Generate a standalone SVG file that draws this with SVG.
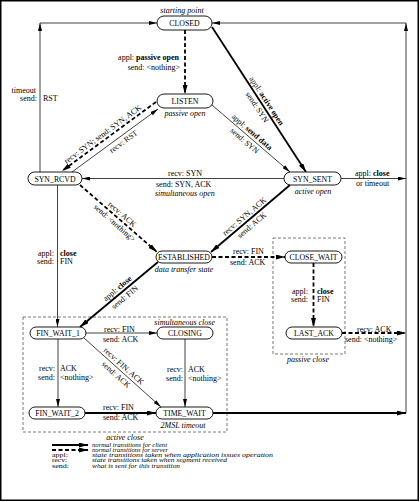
<svg xmlns="http://www.w3.org/2000/svg" width="420" height="502" viewBox="0 0 420 502">
<style>
.n rect{fill:#fff;stroke:#000;stroke-width:0.9}
.n text{font-family:"Liberation Serif",serif;font-size:7.8px;text-anchor:middle}
text{font-family:"Liberation Serif",serif;font-size:8px;fill:#000}
.i{font-style:italic}
.b{font-weight:bold}
.m{text-anchor:middle}
.e{text-anchor:end}
.lg{font-size:5.2px}
.thin{stroke:#111;stroke-width:0.8;fill:none}
.thick{stroke:#000;stroke-width:1.8;fill:none}
.dash{stroke:#000;stroke-width:1.8;stroke-dasharray:4 2.5;fill:none}
.box{stroke:#555;stroke-width:0.8;stroke-dasharray:3 2;fill:none}
</style>
<defs>
<marker id="a" viewBox="0 0 8 4" refX="8" refY="2" markerWidth="8" markerHeight="4" markerUnits="userSpaceOnUse" orient="auto"><path d="M0,0 L8,2 L0,4 z" fill="#000"/></marker>
<marker id="A" viewBox="0 0 9 5" refX="9" refY="2.5" markerWidth="9" markerHeight="5" markerUnits="userSpaceOnUse" orient="auto"><path d="M0,0 L9,2.5 L0,5 z" fill="#000"/></marker>
</defs>
<rect x="0.75" y="0.75" width="417.5" height="499.5" fill="#fff" stroke="#000" stroke-width="1.5"/>
<g id="boxes">
<rect class="box" x="273" y="238" width="72" height="116"/>
<rect class="box" x="23" y="317" width="204" height="115"/>
</g>
<g id="connectors">
<line class="dash" x1="185" y1="30" x2="185" y2="94" marker-end="url(#A)"/>
<line class="thick" x1="212" y1="27" x2="306" y2="172" marker-end="url(#A)"/>
<line class="thin" x1="212" y1="105" x2="290" y2="172" marker-end="url(#a)"/>
<line class="dash" x1="156" y1="102" x2="62" y2="171" marker-end="url(#A)"/>
<line class="thin" x1="72" y1="172" x2="158" y2="109" marker-end="url(#a)"/>
<line class="thin" x1="284" y1="178.5" x2="82" y2="178.5" marker-end="url(#a)"/>
<line class="dash" x1="80" y1="185" x2="157" y2="252" marker-end="url(#A)"/>
<line class="thick" x1="290" y1="185" x2="211" y2="252" marker-end="url(#A)"/>
<line class="thin" x1="341" y1="178.5" x2="406" y2="178.5" marker-end="url(#a)"/>
<line class="thin" x1="406" y1="413" x2="406" y2="23" marker-end="url(#a)"/>
<line class="thin" x1="406" y1="23" x2="212" y2="23" marker-end="url(#a)"/>
<line class="thin" x1="40" y1="172" x2="40" y2="23" marker-end="url(#a)"/>
<line class="thin" x1="40" y1="23" x2="157" y2="23" marker-end="url(#a)"/>
<line class="thin" x1="57.5" y1="185" x2="57.5" y2="327" marker-end="url(#a)"/>
<line class="thick" x1="158" y1="262" x2="80" y2="327" marker-end="url(#A)"/>
<line class="dash" x1="212" y1="257" x2="285" y2="257" marker-end="url(#A)"/>
<line class="dash" x1="313.5" y1="263" x2="313.5" y2="327" marker-end="url(#A)"/>
<line class="dash" x1="342" y1="333" x2="406" y2="333" marker-end="url(#A)"/>
<line class="thin" x1="86" y1="333" x2="157" y2="333" marker-end="url(#a)"/>
<line class="thin" x1="84" y1="338" x2="161" y2="407" marker-end="url(#a)"/>
<line class="thin" x1="58" y1="339" x2="58" y2="407" marker-end="url(#a)"/>
<line class="thin" x1="185" y1="339" x2="185" y2="407" marker-end="url(#a)"/>
<line class="thick" x1="85" y1="413" x2="156" y2="413" marker-end="url(#A)"/>
<line class="thick" x1="213" y1="413" x2="406" y2="413" marker-end="url(#A)"/>
</g>
<g id="labels">
<text class="i m" x="182" y="12.5">starting point</text>
<text class="e" x="179" y="60">appl: <tspan class="b">passive open</tspan></text>
<text class="e" x="180" y="70">send: &lt;nothing&gt;</text>
<text class="i m" x="185" y="115.5">passive open</text>
<text class="e" x="36" y="92.5">timeout</text>
<text class="e" x="37" y="100.5">send:</text>
<text x="43" y="100.5">RST</text>
<g transform="translate(262,104) rotate(56.9)"><text class="m" y="-3">appl: <tspan class="b">active open</tspan></text><text class="m" y="8.5">send: SYN</text></g>
<g transform="translate(248.4,136.3) rotate(40.7)"><text class="m" y="-3">appl: <tspan class="b">send data</tspan></text><text class="m" y="8.5">send: SYN</text></g>
<g transform="translate(106,138.7) rotate(-36.3)"><text class="m" y="-3">recv: SYN; send: SYN, ACK</text></g>
<g transform="translate(120,136.8) rotate(-36.2)"><text class="m" y="8.5">recv: RST</text></g>
<text x="168" y="176">recv: SYN</text>
<text x="156" y="186.5">send: SYN, ACK</text>
<text class="i" x="155" y="195.5">simultaneous open</text>
<text class="i m" x="313" y="194">active open</text>
<text x="355" y="175.5">appl: <tspan class="b">close</tspan></text>
<text x="356" y="186">or timeout</text>
<g transform="translate(118.5,218.5) rotate(41)"><text class="m" y="-3">recv: ACK</text><text class="m" y="8.5">send: &lt;nothing&gt;</text></g>
<g transform="translate(248,220.6) rotate(-40.3)"><text class="m" y="-3">recv: SYN, ACK</text><text class="m" y="8.5">send: ACK</text></g>
<text class="e" x="54" y="256">appl:</text>
<text class="b" x="60" y="256">close</text>
<text class="e" x="54" y="264">send:</text>
<text x="60" y="264">FIN</text>
<text class="i m" x="184" y="271.5">data transfer state</text>
<text x="233" y="254">recv: FIN</text>
<text x="230" y="265">send: ACK</text>
<text class="e" x="308" y="294">appl:</text>
<text class="b" x="317" y="294">close</text>
<text class="e" x="308" y="302">send:</text>
<text x="317" y="302">FIN</text>
<g transform="translate(121,292.8) rotate(-39.8)"><text class="m" y="-3">appl: <tspan class="b">close</tspan></text><text class="m" y="8.5">send: FIN</text></g>
<text x="357" y="331.5">recv: ACK</text>
<text x="345" y="342">send: &lt;nothing&gt;</text>
<text class="i m" x="308" y="362">passive close</text>
<text class="i e" x="215" y="325">simultaneous close</text>
<text x="104" y="331.5">recv: FIN</text>
<text x="103" y="341.5">send: ACK</text>
<g transform="translate(120,370.3) rotate(41.9)"><text class="m" y="-3">recv: FIN, ACK</text><text class="m" y="8.5">send: ACK</text></g>
<text class="e" x="55" y="370.5">recv:</text>
<text x="60" y="370.5">ACK</text>
<text class="e" x="55" y="379.5">send:</text>
<text x="60" y="379.5">&lt;nothing&gt;</text>
<text class="e" x="183" y="371.5">recv:</text>
<text x="188" y="371.5">ACK</text>
<text class="e" x="183" y="380.5">send:</text>
<text x="188" y="380.5">&lt;nothing&gt;</text>
<text x="103" y="409.5">recv: FIN</text>
<text x="103" y="419.5">send: ACK</text>
<text class="i m" x="183" y="428">2MSL timeout</text>
<text class="i m" x="125" y="440">active close</text>
</g>
<g id="nodes">
<g class="n" id="CLOSED"><rect x="157" y="16" width="55" height="14" rx="7"/><text x="184.5" y="26">CLOSED</text></g>
<g class="n" id="LISTEN"><rect x="157" y="94" width="56" height="14" rx="7"/><text x="185" y="104">LISTEN</text></g>
<g class="n" id="SYN_RCVD"><rect x="28" y="172" width="54" height="13" rx="6.5"/><text x="55" y="181.5">SYN_RCVD</text></g>
<g class="n" id="SYN_SENT"><rect x="284" y="172" width="57" height="13" rx="6.5"/><text x="312.5" y="181.5">SYN_SENT</text></g>
<g class="n" id="ESTABLISHED"><rect x="156" y="251" width="56" height="12" rx="6"/><text x="184" y="260" textLength="52" lengthAdjust="spacingAndGlyphs">ESTABLISHED</text></g>
<g class="n" id="CLOSE_WAIT"><rect x="285" y="251" width="57" height="12" rx="6"/><text x="313.5" y="260">CLOSE_WAIT</text></g>
<g class="n" id="LAST_ACK"><rect x="286" y="327" width="56" height="12" rx="6"/><text x="314" y="336">LAST_ACK</text></g>
<g class="n" id="FIN_WAIT_1"><rect x="30" y="327" width="56" height="12" rx="6"/><text x="58" y="336">FIN_WAIT_1</text></g>
<g class="n" id="CLOSING"><rect x="157" y="327" width="56" height="12" rx="6"/><text x="185" y="336">CLOSING</text></g>
<g class="n" id="FIN_WAIT_2"><rect x="29" y="407" width="56" height="12" rx="6"/><text x="57" y="416">FIN_WAIT_2</text></g>
<g class="n" id="TIME_WAIT"><rect x="156" y="407" width="57" height="12" rx="6"/><text x="184.5" y="416">TIME_WAIT</text></g>
</g>
<g id="legend">
<line class="thick" x1="52" y1="445" x2="88" y2="445" marker-end="url(#A)"/>
<line class="dash" x1="52" y1="450" x2="88" y2="450" marker-end="url(#A)"/>
<text class="i lg" x="92" y="446.8" textLength="75" lengthAdjust="spacingAndGlyphs">normal transitions for client</text>
<text class="i lg" x="92" y="452" textLength="76" lengthAdjust="spacingAndGlyphs">normal transitions for server</text>
<text class="lg" x="52" y="457.2" textLength="16" lengthAdjust="spacingAndGlyphs">appl:</text>
<text class="i lg" x="92" y="457.2" textLength="181" lengthAdjust="spacingAndGlyphs">state transitions taken when application issues operation</text>
<text class="lg" x="52" y="462.4" textLength="15" lengthAdjust="spacingAndGlyphs">recv:</text>
<text class="i lg" x="92" y="462.4" textLength="135" lengthAdjust="spacingAndGlyphs">state transitions taken when segment received</text>
<text class="lg" x="52" y="467.6" textLength="17" lengthAdjust="spacingAndGlyphs">send:</text>
<text class="i lg" x="92" y="467.6" textLength="88" lengthAdjust="spacingAndGlyphs">what is sent for this transition</text>
</g>
</svg>
